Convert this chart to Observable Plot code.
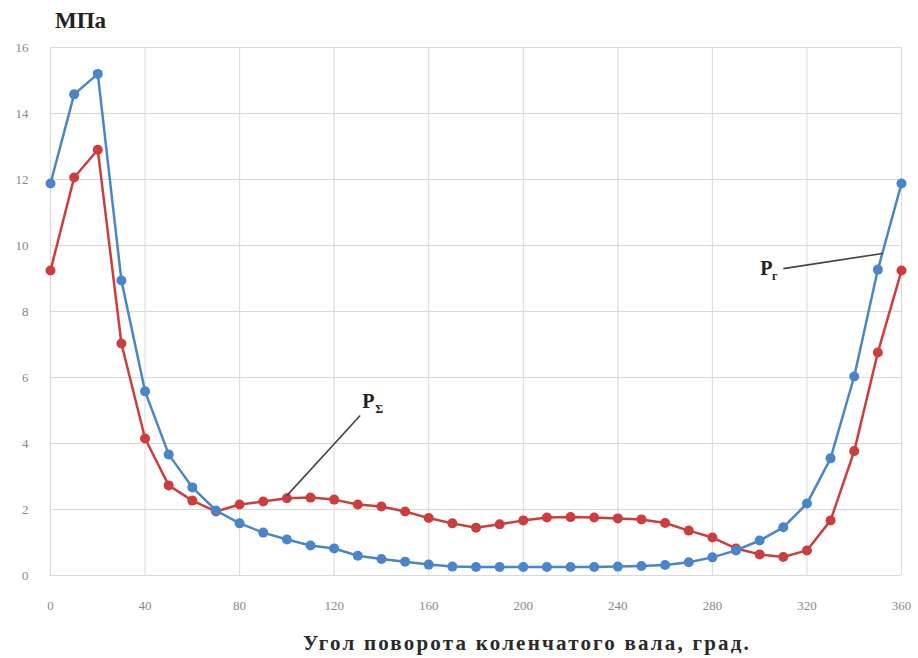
<!DOCTYPE html>
<html>
<head>
<meta charset="utf-8">
<script src="https://cdn.jsdelivr.net/npm/d3@7"></script>
<script src="https://cdn.jsdelivr.net/npm/@observablehq/plot@0.6"></script>
<style>
  html, body { margin: 0; padding: 0; background: #fff; }
  #wrap { position: relative; width: 918px; height: 658px; overflow: hidden; }
  .txt { position: absolute; font-family: "Liberation Serif", "DejaVu Serif", serif; color: #222; white-space: nowrap; }
</style>
</head>
<body>
<div id="wrap">
  <div class="txt" id="unit" style="left:55px; top:8px; font-size:23px; font-weight:bold;">МПа</div>
  <div class="txt" id="xlabel" style="left:0; width:1054px; text-align:center; top:631px; font-size:21px; font-weight:bold; letter-spacing:2.2px; color:#2a2a2a;">Угол поворота коленчатого вала, град.</div>
</div>
<script>
const angles = [0,10,20,30,40,50,60,70,80,90,100,110,120,130,140,150,160,170,180,190,200,210,220,230,240,250,260,270,280,290,300,310,320,330,340,350,360];
const pGas = [11.88,14.58,15.2,8.94,5.58,3.67,2.67,1.97,1.58,1.3,1.09,0.91,0.82,0.6,0.5,0.42,0.33,0.27,0.26,0.26,0.26,0.26,0.26,0.26,0.27,0.29,0.32,0.4,0.55,0.76,1.06,1.46,2.18,3.55,6.03,9.27,11.88];
const pSum = [9.24,12.06,12.9,7.03,4.15,2.73,2.27,1.94,2.15,2.24,2.34,2.36,2.3,2.15,2.09,1.94,1.74,1.58,1.45,1.55,1.67,1.76,1.77,1.76,1.73,1.7,1.59,1.36,1.15,0.82,0.64,0.56,0.76,1.67,3.77,6.76,9.24];
const xTicks = [0,40,80,120,160,200,240,280,320,360];
const yTicks = [0,2,4,6,8,10,12,14,16];
const seriesLabels = ["Pг", "PΣ"];
const labelPos = [[308, 9.3], [131, 5.15]];
const leaderFrom = [[310, 9.3], [131, 4.85]];
const leaderTo = [[352, 9.76], [100, 2.42]];

const blue = "#4A85C9", red = "#CC3E3E";
const gasData = angles.map((a, i) => ({a, v: pGas[i]}));
const sumData = angles.map((a, i) => ({a, v: pSum[i]}));
const leaders = leaderFrom.map((f, i) => ({x1: f[0], y1: f[1], x2: leaderTo[i][0], y2: leaderTo[i][1]}));

const chart = Plot.plot({
  width: 918,
  height: 658,
  marginLeft: 50,
  marginRight: 17,
  marginTop: 47,
  marginBottom: 83,
  style: {fontFamily: "Liberation Serif, serif", fontSize: "13px", color: "#888", background: "transparent"},
  x: {domain: [0, 360], ticks: xTicks, tickSize: 0, tickPadding: 25, label: null},
  y: {domain: [0, 16], ticks: yTicks, tickSize: 0, tickPadding: 22, label: null},
  marks: [
    Plot.gridX(xTicks, {stroke: "#d9d9d9", strokeOpacity: 1, strokeWidth: 1}),
    Plot.gridY(yTicks, {stroke: "#d9d9d9", strokeOpacity: 1, strokeWidth: 1}),
    Plot.axisX({ticks: xTicks, tickSize: 0, tickPadding: 25, fill: "#888", label: null}),
    Plot.axisY({ticks: yTicks, tickSize: 0, tickPadding: 22, fill: "#888", label: null}),
    Plot.line(sumData, {x: "a", y: "v", stroke: red, strokeWidth: 2.5}),
    Plot.dot(sumData, {x: "a", y: "v", fill: red, r: 5}),
    Plot.line(gasData, {x: "a", y: "v", stroke: blue, strokeWidth: 2.5}),
    Plot.dot(gasData, {x: "a", y: "v", fill: blue, r: 5}),
    Plot.link(leaders, {x1: "x1", y1: "y1", x2: "x2", y2: "y2", stroke: "#444", strokeWidth: 1.6}),
    Plot.text([0], {x: labelPos[0][0], y: labelPos[0][1], text: () => "P", fill: "#222", fontSize: 20, fontWeight: "bold", textAnchor: "end", dx: -6, fontFamily: "Liberation Serif, serif"}),
    Plot.text([0], {x: labelPos[0][0], y: labelPos[0][1], text: () => seriesLabels[0].slice(1), fill: "#222", fontSize: 12, fontWeight: "bold", textAnchor: "end", dx: -1, dy: 8, fontFamily: "Liberation Serif, serif"}),
    Plot.text([0], {x: labelPos[1][0], y: labelPos[1][1], text: () => "P", fill: "#222", fontSize: 20, fontWeight: "bold", textAnchor: "start", dx: 2, dy: -4, fontFamily: "Liberation Serif, serif"}),
    Plot.text([0], {x: labelPos[1][0], y: labelPos[1][1], text: () => seriesLabels[1].slice(1), fill: "#222", fontSize: 12, fontWeight: "bold", textAnchor: "start", dx: 15, dy: 4, fontFamily: "Liberation Serif, serif"})
  ]
});
chart.style.position = "absolute";
chart.style.left = "0";
chart.style.top = "0";
document.getElementById("wrap").prepend(chart);
</script>
</body>
</html>
